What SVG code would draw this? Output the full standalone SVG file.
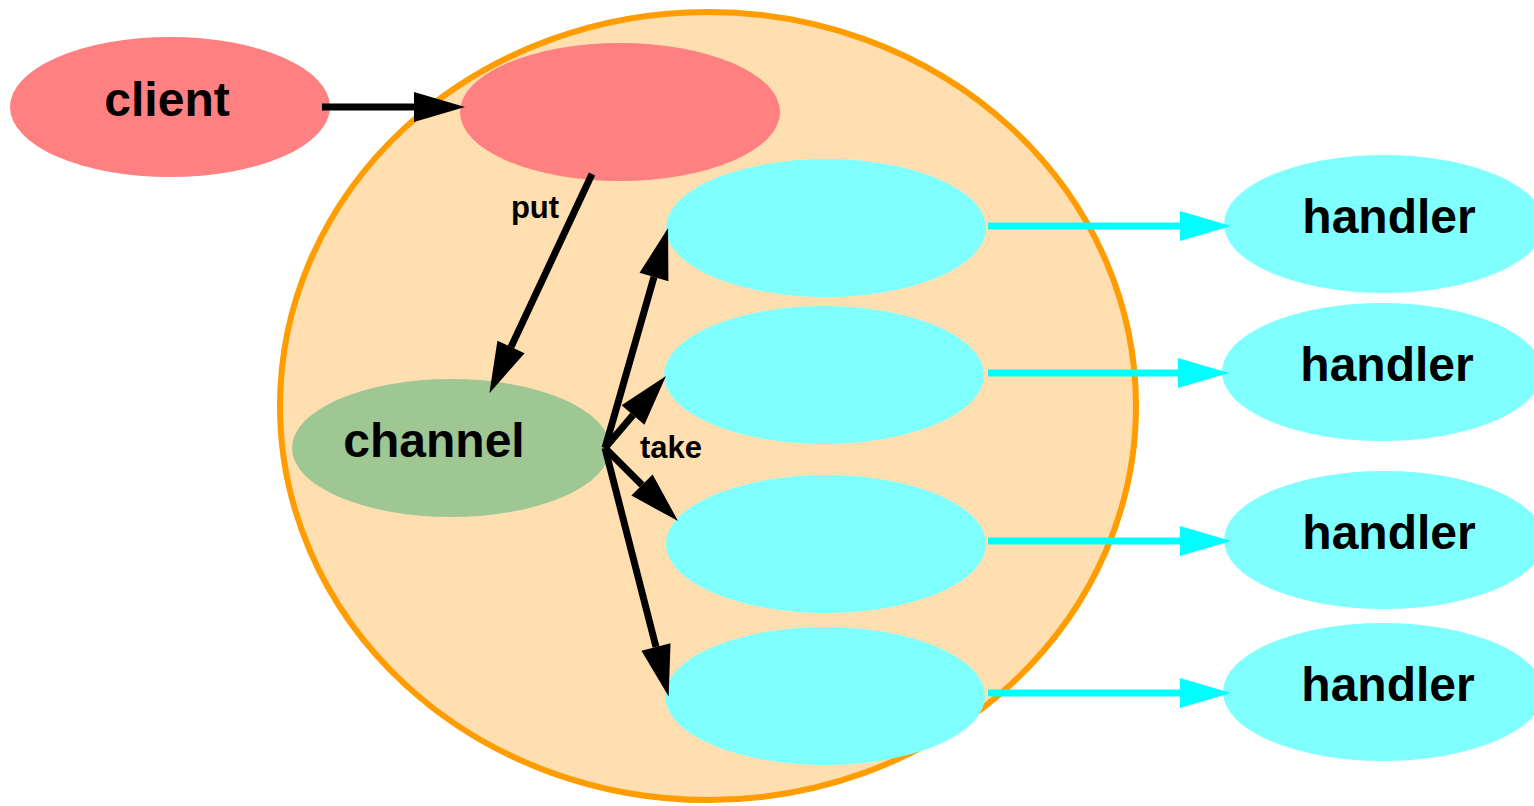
<svg xmlns="http://www.w3.org/2000/svg" width="1534" height="806" viewBox="0 0 1534 806">
<style>
.lbl{font-family:"Liberation Sans",Arial,sans-serif;font-weight:bold;fill:#000;text-anchor:middle}
.big{font-size:48px}
.small{font-size:31px}
.red{fill:#FF8080}
.cy{fill:#80FFFF}
.bl{stroke:#000;stroke-width:7;fill:none;marker-end:url(#ah)}
.cl{stroke:#00FFFF;stroke-width:7;fill:none;marker-end:url(#ahc)}
</style>
<defs>
<marker id="ah" markerUnits="userSpaceOnUse" viewBox="0 -16 52 32" markerWidth="52" markerHeight="32" refX="0" refY="0" orient="auto" overflow="visible">
<path d="M0,-15 L51,0 L0,15 Z" fill="#000"/>
</marker>
<marker id="ahc" markerUnits="userSpaceOnUse" viewBox="0 -16 52 32" markerWidth="52" markerHeight="32" refX="0" refY="0" orient="auto" overflow="visible">
<path d="M0,-15 L51,0 L0,15 Z" fill="#00FFFF"/>
</marker>
</defs>
<rect width="1534" height="806" fill="#fff"/>
<g id="cluster">
<ellipse cx="708" cy="406" rx="428" ry="394" fill="#FFDFB0" stroke="#FF9C00" stroke-width="6"/>
</g>
<g id="client">
<ellipse class="red" cx="170" cy="107" rx="160" ry="70"/>
<text class="lbl big" x="167" y="116">client</text>
</g>
<g id="server">
<ellipse class="red" cx="620" cy="112" rx="160" ry="69"/>
</g>
<g id="channel">
<ellipse cx="451" cy="448" rx="159" ry="69" fill="#9EC794"/>
<text class="lbl big" x="434" y="457">channel</text>
</g>
<g id="worker1"><ellipse class="cy" cx="826" cy="228" rx="160" ry="69"/></g>
<g id="worker2"><ellipse class="cy" cx="824" cy="375" rx="160" ry="69"/></g>
<g id="worker3"><ellipse class="cy" cx="826" cy="544" rx="160" ry="69"/></g>
<g id="worker4"><ellipse class="cy" cx="825" cy="696" rx="160" ry="69"/></g>
<g id="handler1">
<ellipse class="cy" cx="1384" cy="224" rx="160" ry="69"/>
<text class="lbl big" x="1389" y="233">handler</text>
</g>
<g id="handler2">
<ellipse class="cy" cx="1382" cy="372" rx="160" ry="69"/>
<text class="lbl big" x="1387" y="381">handler</text>
</g>
<g id="handler3">
<ellipse class="cy" cx="1384" cy="540" rx="160" ry="69"/>
<text class="lbl big" x="1389" y="549">handler</text>
</g>
<g id="handler4">
<ellipse class="cy" cx="1383" cy="692" rx="160" ry="69"/>
<text class="lbl big" x="1388" y="701">handler</text>
</g>
<g id="connectors">
<line class="bl" x1="322" y1="107" x2="414" y2="107"/>
<line class="bl" x1="592" y1="174" x2="511" y2="347"/>
<text class="lbl small" x="535" y="218">put</text>
<line class="bl" x1="605" y1="448" x2="654" y2="277"/>
<line class="bl" x1="605" y1="448" x2="633" y2="415"/>
<line class="bl" x1="605" y1="448" x2="642" y2="485"/>
<line class="bl" x1="605" y1="448" x2="656" y2="647"/>
<text class="lbl small" x="671" y="458">take</text>
<line class="cl" x1="988" y1="226" x2="1180" y2="226"/>
<line class="cl" x1="988" y1="373" x2="1178" y2="373"/>
<line class="cl" x1="988" y1="541" x2="1180" y2="541"/>
<line class="cl" x1="988" y1="693" x2="1180" y2="693"/>
</g>
</svg>
